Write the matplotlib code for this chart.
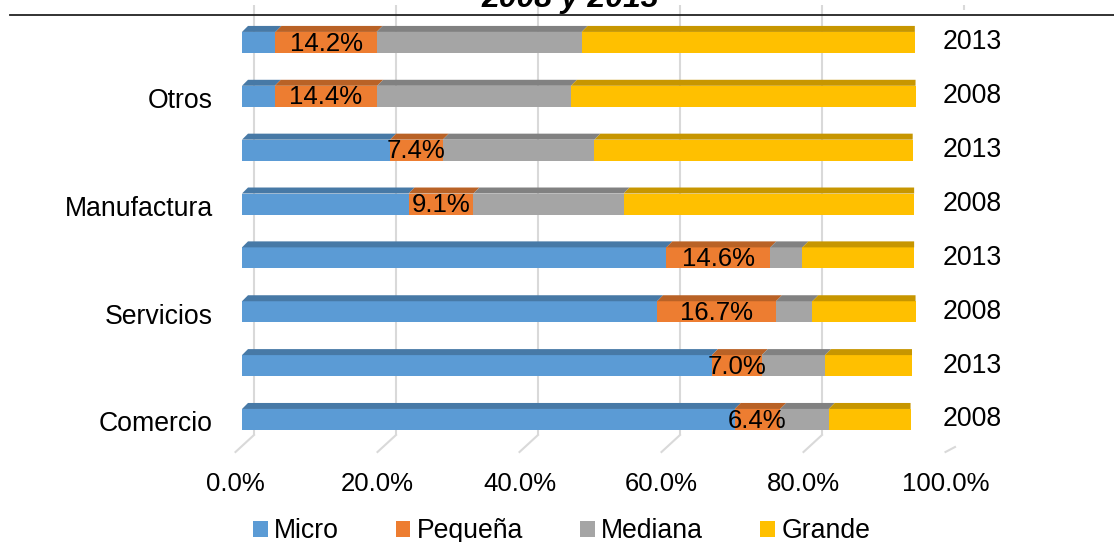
import matplotlib
matplotlib.use("Agg")
import matplotlib.pyplot as plt
from matplotlib.lines import Line2D
from matplotlib.patches import Polygon
import numpy as np

plt.rcParams['font.family'] = ['Liberation Sans', 'DejaVu Sans']

# rows from bottom to top
categories = ['Comercio', 'Servicios', 'Manufactura', 'Otros']
row_years = ['2008', '2013', '2008', '2013', '2008', '2013', '2008', '2013']
series = ['Micro', 'Pequeña', 'Mediana', 'Grande']
micro = [69.2, 66.0, 58.3, 59.6, 23.4, 20.8, 4.6, 4.7]
pequena = [6.4, 7.0, 16.7, 14.6, 9.1, 7.4, 14.4, 14.2]
mediana = [6.8, 8.9, 5.1, 4.5, 21.1, 21.3, 27.2, 28.8]
grande = [11.5, 12.2, 14.5, 15.7, 40.8, 44.7, 48.4, 46.8]
ticks = [0, 20, 40, 60, 80, 100]

colors = ['#5B9BD5', '#ED7D31', '#A5A5A5', '#FFC000']
grid_c = '#D9D9D9'
FS = 18.5   # tick and data labels
FS2 = 19.2  # category, year and legend labels

W, H = 1114, 542
fig = plt.figure(figsize=(W / 100, H / 100), dpi=100)


def px_box(x0, y0, x1, y1):
    return [x0 / W, 1 - y1 / H, (x1 - x0) / W, (y1 - y0) / H]


# back wall gridlines and floor lines
wall = fig.add_axes(px_box(254, 5, 964, 452), zorder=0)
wall.set_xlim(0, 100)
wall.set_ylim(0, 1)
wall.axis('off')
foot = (452 - 435) / 447
shift = 18.5 / 7.1
for t in ticks[:-1]:
    wall.vlines(t, foot, 1, color=grid_c, lw=1.5, clip_on=False)
    wall.plot([t, t - shift], [foot, 0], color=grid_c, lw=1.5, clip_on=False)
wall.vlines(ticks[-1], 1 - 5 / 447, 1, color=grid_c, lw=1.5, clip_on=False)
wall.plot([ticks[-1] - 9 / 7.1, ticks[-1] - shift], [5 / 447, 0], color=grid_c, lw=1.5, clip_on=False)

# bars
ax = fig.add_axes(px_box(242, 15.5, 954, 446.4), zorder=2)
ax.set_facecolor('none')
ax.set_xlim(0, 100)
ax.set_ylim(-0.5, 7.5)
ax.axis('off')

ypos = np.arange(len(row_years))
bh = 0.39
dx, dy = 6 / 7.12, 6 / 53.86
data = [micro, pequena, mediana, grande]
left = np.zeros(len(ypos))
handles = []
for k, (vals, c, name) in enumerate(zip(data, colors, series)):
    vals = np.array(vals)
    bars = ax.barh(ypos, vals, left=left, height=bh, color=c, label=name, zorder=3)
    handles.append(bars)
    top_c = tuple(np.array(matplotlib.colors.to_rgb(c)) * 0.78)
    for y, a, w in zip(ypos, left, vals):
        b = a + w
        yt = y + bh / 2
        back_right = b if k == len(data) - 1 else b + dx
        ax.add_patch(Polygon([(a, yt), (a + dx, yt + dy), (back_right, yt + dy), (b, yt)],
                             closed=True, facecolor=top_c, edgecolor='none', zorder=3))
    if name == 'Pequeña':
        for y, a, w in zip(ypos, left, vals):
            ax.text(a + w / 2, y - 0.02, f'{w:.1f}%', ha='center', va='center',
                    fontsize=FS, color='black', zorder=5)
    left = left + vals

# category labels and year labels
for i, cat in enumerate(categories):
    ax.text(-29 / 712, 2 * i - 0.09, cat, transform=ax.get_yaxis_transform(),
            ha='right', va='center', fontsize=FS2)
for y, yr in zip(ypos, row_years):
    ax.text((943 - 242) / 712, y, yr, transform=ax.get_yaxis_transform(),
            ha='left', va='center', fontsize=FS2)

# floor front edge with the percentage labels
floor = fig.add_axes(px_box(235.5, 451, 945.5, 452), zorder=1)
floor.set_facecolor('none')
floor.set_xlim(0, 100)
for s in floor.spines.values():
    s.set_visible(False)
floor.set_yticks([])
floor.set_xticks(ticks)
floor.set_xticklabels([f'{t:.1f}%' for t in ticks], fontsize=FS)
floor.tick_params(axis='x', length=0, pad=14.5)

# top rule and the clipped title line
fig.add_artist(Line2D([10 / W, 1], [1 - 15 / H, 1 - 15 / H], color='#222222', lw=1.3))
fig.text(570 / W, 1 - 7.5 / H, '2008 y 2013', ha='center', va='baseline',
         fontsize=23, fontweight='bold', fontstyle='italic')

fig.legend(handles, series, loc='center', bbox_to_anchor=(561.5 / W, 1 - 531 / H), ncol=4,
           frameon=False, fontsize=FS2, handlelength=0.55, handleheight=0.55,
           handletextpad=0.25, columnspacing=2.12, borderaxespad=0, borderpad=0)

fig.savefig('out.png', dpi=100)
